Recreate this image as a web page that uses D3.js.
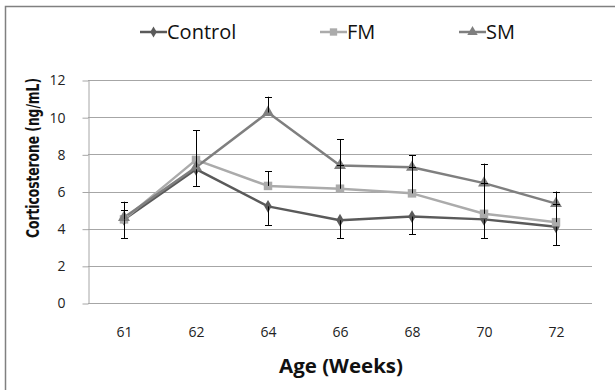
<!DOCTYPE html>
<html><head><meta charset="utf-8">
<script src="https://cdn.jsdelivr.net/npm/d3@7"></script>
<style>html,body{margin:0;padding:0;background:#fff;}svg{display:block;font-family:"Open Sans",sans-serif;}</style>
</head><body>
<svg id="chart" width="615" height="390"></svg>
<script>
const categories = ["61","62","64","66","68","70","72"];
const yTicks = [0,2,4,6,8,10,12];
const controlValues = [4.5, 7.2, 5.2, 4.45, 4.65, 4.5, 4.1];
const fmValues      = [4.5, 7.7, 6.3, 6.15, 5.9, 4.8, 4.35];
const smValues      = [4.6, 7.3, 10.25, 7.4, 7.3, 6.45, 5.35];
const controlErrMinus = [1.0, 0.9, 1.0, 0.95, 0.95, 1.0, 1.0];
const fmErrPlus       = [0.5, 1.6, 0.8, 1.25, 1.4, 1.65, 1.0];
const smErrPlus       = [0.85, 2.0, 0.85, 1.4, 0.65, 1.05, 0.65];

(function(){
const series = [
  {name:"Control", values:controlValues, err:controlErrMinus, dir:-1, color:"#5a5a5a", shape:d3.symbolDiamond, size:48},
  {name:"FM", values:fmValues, err:fmErrPlus, dir:1, color:"#ababab", shape:d3.symbolSquare, size:72},
  {name:"SM", values:smValues, err:smErrPlus, dir:1, color:"#7f7f7f", shape:d3.symbolTriangle, size:62}
];

const svg = d3.select("#chart");
const mLeft = 88, mRight = 592, mTop = 80, mBottom = 303;

svg.append("rect").attr("x",5.5).attr("y",6.5).attr("width",640).attr("height",420)
  .attr("fill","none").attr("stroke","#808080").attr("stroke-width",1.5);

const x = d3.scalePoint().domain(categories).range([mLeft, mRight]).padding(0.5);
const y = d3.scaleLinear().domain([0,12]).range([mBottom, mTop]);

svg.append("g").selectAll("line").data(yTicks).join("line")
  .attr("x1", mLeft).attr("x2", mRight)
  .attr("y1", d=>Math.round(y(d))+0.5).attr("y2", d=>Math.round(y(d))+0.5)
  .attr("stroke","#a6a6a6").attr("stroke-width",1);

const yAxis = svg.append("g").attr("transform",`translate(${mLeft+0.5},0.5)`)
  .call(d3.axisLeft(y).tickValues(yTicks).tickSize(6).tickPadding(17).tickSizeOuter(0));
yAxis.select(".domain").attr("stroke","#a6a6a6");
yAxis.selectAll(".tick line").attr("stroke","#a6a6a6");
yAxis.selectAll("text").attr("font-size",14).attr("fill","#222").attr("font-family","Open Sans, sans-serif");

const xAxis = svg.append("g").attr("transform",`translate(0,${mBottom})`)
  .call(d3.axisBottom(x).tickSize(0).tickPadding(24));
xAxis.select(".domain").remove();
xAxis.selectAll("text").attr("font-size",14).attr("fill","#222").attr("font-family","Open Sans, sans-serif");

svg.append("text").attr("x",341).attr("y",373).attr("text-anchor","middle")
  .attr("font-weight","bold").attr("font-size",19).attr("fill","#111")
  .attr("textLength",124).attr("lengthAdjust","spacingAndGlyphs").text("Age (Weeks)");
svg.append("text").attr("transform","translate(39,158) rotate(-90)").attr("text-anchor","middle")
  .attr("font-family","'Liberation Sans Narrow','DejaVu Sans Condensed','Open Sans',sans-serif")
  .attr("font-weight","bold").attr("font-size",18).attr("fill","#111")
  .attr("textLength",160).attr("lengthAdjust","spacingAndGlyphs").text("Corticosterone (ng/mL)");

const line = d3.line().x((d,i)=>x(categories[i])).y(d=>y(d));
series.forEach(s=>{
  svg.append("path").datum(s.values).attr("d",line).attr("fill","none")
    .attr("stroke",s.color).attr("stroke-width",2.5).attr("stroke-linejoin","round");
});
series.forEach(s=>{
  svg.append("g").selectAll("path").data(s.values).join("path")
    .attr("transform",(d,i)=>`translate(${x(categories[i])},${y(d)})`)
    .attr("d",d3.symbol().type(s.shape).size(s.size)).attr("fill",s.color);
});
series.forEach(s=>{
  const g = svg.append("g").attr("stroke","#000").attr("stroke-width",1);
  s.values.forEach((v,i)=>{
    const cx = Math.round(x(categories[i]))+0.5;
    const y0 = y(v), y1 = y(v + s.dir*s.err[i]);
    g.append("line").attr("x1",cx).attr("x2",cx).attr("y1",y0).attr("y2",y1);
    g.append("line").attr("x1",cx-3.5).attr("x2",cx+3.5).attr("y1",Math.round(y1)+0.5).attr("y2",Math.round(y1)+0.5);
  });
});

const legendX = [140, 320, 459];
const legend = svg.append("g");
series.forEach((s,i)=>{
  const g = legend.append("g").attr("transform",`translate(${legendX[i]},32)`);
  g.append("line").attr("x1",0).attr("x2",27).attr("stroke",s.color).attr("stroke-width",2.5);
  g.append("path").attr("transform","translate(13.5,0)").attr("d",d3.symbol().type(s.shape).size(s.size*0.75)).attr("fill",s.color);
  g.append("text").attr("x",27).attr("y",7).attr("font-size",20).attr("fill","#111").text(s.name);
});
})();
</script>
</body></html>
